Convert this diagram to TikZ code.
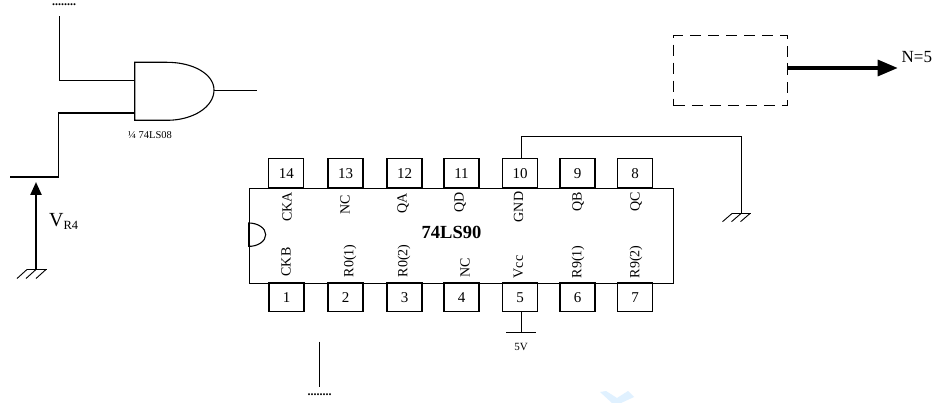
\documentclass[tikz,border=0pt]{standalone}
\usepackage{fontspec}
\setmainfont{Liberation Serif}
\usetikzlibrary{arrows.meta}
\tikzset{
  wire/.style={draw=black,line width=1.1pt,line cap=rect},
  thinwire/.style={draw=black,line width=0.9pt},
  pinbox/.style={draw=black,line width=1.1pt,minimum width=35pt,minimum height=29pt,inner sep=0pt,font=\fontsize{15}{15}\selectfont},
  pinlabel/.style={rotate=90,inner sep=0pt,font=\fontsize{14}{14}\selectfont},
  heavyarrow/.style={line width=3.2pt,-{Triangle[length=20pt,width=16pt]}},
  medarrow/.style={line width=2.4pt,-{Triangle[length=13pt,width=11pt]}},
  dotsrow/.style={inner sep=0pt,font=\fontsize{12}{12}\selectfont\bfseries}
}
\newcommand{\gndsym}[1]{%
  \draw[thinwire] ([xshift=-9pt]#1) -- ([xshift=9pt]#1);
  \foreach \dx in {-9,0,9}{\draw[thinwire] ([xshift=\dx pt]#1) -- ([xshift=\dx pt-9pt,yshift=-9pt]#1);}
}
\begin{document}
\begin{tikzpicture}[x=1pt,y=-1pt]
\useasboundingbox (0,0) rectangle (949,403);
\fill[white] (0,0) rectangle (949,403);
% watermark
\fill[blue!45!cyan!12] (600,392) -- (612,403) -- (621,403) -- (634,397) -- (628,391) -- (617,398) -- (606,391) -- cycle;
% chip
\node[draw=black,line width=1.2pt,minimum width=424.5pt,minimum height=95pt,inner sep=0pt,anchor=north west] (chip) at (248.7,187.7) {};
\draw[wire] (248.7,223) arc[start angle=90,end angle=-90,x radius=17pt,y radius=11.7pt] -- cycle;
\node[font=\fontsize{18.5}{18.5}\selectfont\bfseries] (chipname) at (451.5,232) {74LS90};
% top pins
\foreach \n/\cx in {14/286.3,13/345.5,12/404.5,11/461.5,10/520.2,9/577.5,8/635.2}{
  \node[pinbox] (p\n) at (\cx,173.4) {\n};
}
% bottom pins
\foreach \n/\cx in {1/286.5,2/345.5,3/404.5,4/461.5,5/520.2,6/577.5,7/635.2}{
  \node[pinbox] (p\n) at (\cx,297.2) {\n};
}
% top labels
\foreach \nm/\txt/\cx/\cy in {a/CKA/287/207,b/NC/345/204.5,c/QA/403/203,d/QD/460/202,e/GND/518.5/207,f/QB/578/202,g/QC/636/202}{
  \node[pinlabel] (top\nm) at (\cx,\cy) {\txt};
}
% bottom labels
\foreach \nm/\txt/\cx/\cy in {a/CKB/286/262,b/R0(1)/350/261,c/R0(2)/404/261,d/NC/465/268,e/Vcc/518.5/267,f/R9(1)/578/262,g/R9(2)/636/262}{
  \node[pinlabel] (bot\nm) at (\cx,\cy) {\txt};
}
% AND gate
\draw[wire] (134.7,62.3) coordinate (gtl) -- (167,62.3) .. controls (193,62.3) and (214,74) .. (214,90) coordinate (gout) .. controls (214,107) and (193,120.3) .. (167,120.3) -- (134.7,120.3) coordinate (gbl) -- cycle;
\coordinate (gi1) at (134.7,80.3);
\coordinate (gi2) at (134.7,113);
\coordinate (gend) at (256.7,90);
\draw[thinwire] (gout) -- (gend);
\node[font=\fontsize{10.5}{10.5}\selectfont] (glabel) at (150,135.5) {¼ 74LS08};
% gate inputs
\coordinate (in1top) at (59.3,16.7);
\draw[wire] (in1top) |- (gi1);
\coordinate (in2left) at (10.7,177);
\coordinate (in2corner) at (58.7,177);
\draw[wire] (gi2) -| (in2corner) -- (in2left);
\node[dotsrow] (dots1) at (64,5) {........};
% V_R4
\coordinate (gnda) at (36,270);
\coordinate (vtip) at (36,182);
\draw[medarrow] (gnda) -- (vtip);
\draw[thinwire] (27,269.5) -- (46.5,269.5);
\foreach \x in {27,36,46}{\draw[thinwire] (\x,269.5) -- (\x-10,278.5);}
\node[anchor=west,inner sep=0pt,font=\fontsize{20}{20}\selectfont] (vr) at (49,221.5) {V\raisebox{-2.5pt}{\fontsize{12.5}{12.5}\selectfont R4}};
% bottom stub
\coordinate (stubt) at (319.3,341.7);
\coordinate (stubb) at (319.3,386.7);
\draw[thinwire] (stubt) -- (stubb);
\node[dotsrow] (dots2) at (319.5,395) {........};
% Vcc supply
\coordinate (vbar) at (521.5,332.7);
\draw[thinwire] (p5.south -| vbar) -- (vbar);
\draw[wire] (506.7,332.7) -- (535,332.7);
\node[font=\fontsize{11}{11}\selectfont] (fivev) at (521,347) {5V};
% GND wire
\coordinate (gndb) at (741.3,213.5);
\draw[thinwire] (p10.north -| 521.3,0) |- (741.3,136.7) -- (gndb);
\draw[thinwire] (732,213.5) -- (750.5,213.5);
\foreach \x in {732,741,750}{\draw[thinwire] (\x,213.5) -- (\x-9.5,221.7);}
% dashed box
\node[draw=black,dashed,dash pattern=on 11pt off 7pt,line width=1.1pt,minimum width=113.4pt,minimum height=70pt,inner sep=0pt,anchor=north west] (dbox) at (673.3,35) {};
\coordinate (ntip) at (897.7,68);
\draw[heavyarrow] (dbox.east |- ntip) -- (ntip);
\draw[thinwire] (dbox.east |- 0,63) -- (dbox.east |- 0,73);
\node[anchor=west,inner sep=0pt,font=\fontsize{17}{17}\selectfont] (nfive) at (901.5,57) {N=5};
\end{tikzpicture}
\end{document}
